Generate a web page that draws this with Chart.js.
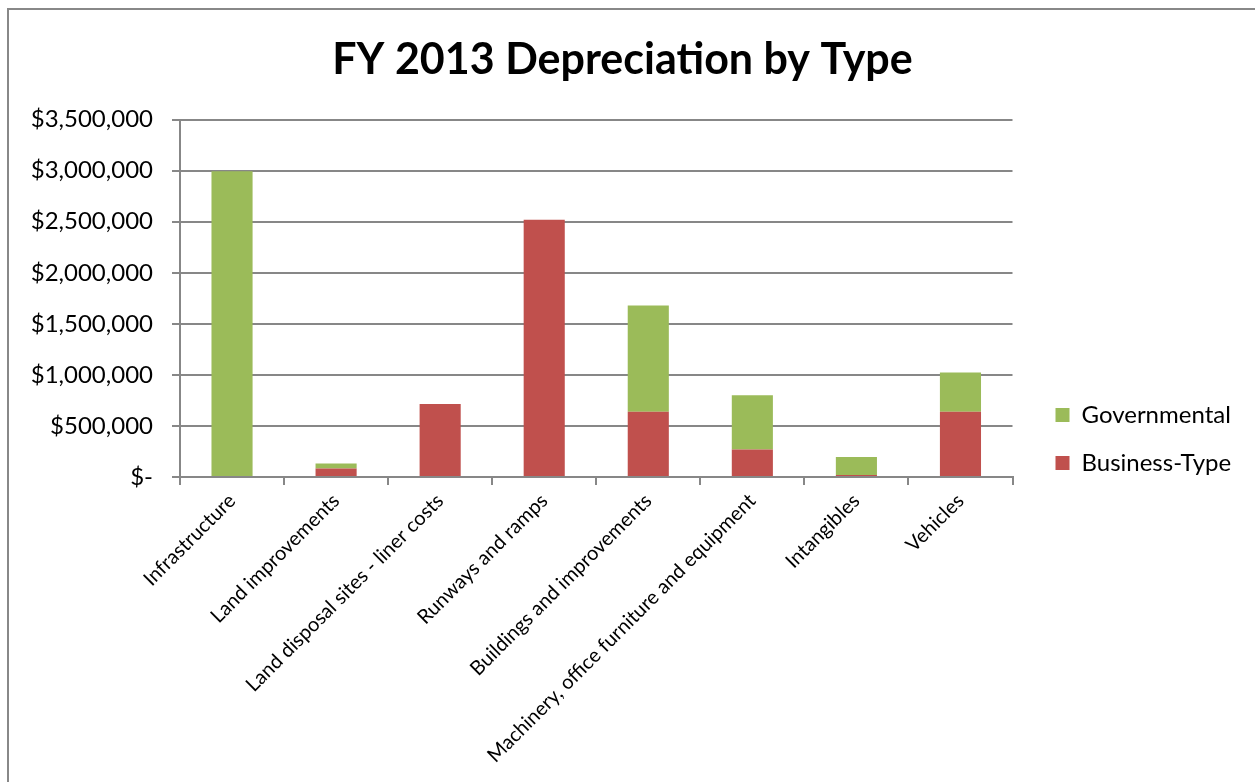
<!DOCTYPE html>
<html lang="en">
<head>
    <meta charset="UTF-8">
    <title>FY 2013 Depreciation by Type</title>
    <script src="https://cdn.jsdelivr.net/npm/chart.js@4"></script>
    <style>
        body {
            margin: 0;
            background: #fff;
            overflow: hidden;
        }
        #frame {
            position: absolute;
            left: 7px;
            top: 8px;
            width: 1300px;
            height: 900px;
            border: 2px solid #888;
        }
        /* the Excel chart runs past the bottom of the window */
        #box {
            position: absolute;
            left: 0;
            top: 0;
            width: 1246px;
            height: 858px;
        }
    </style>
</head>
<body>
    <div id="frame">
        <div id="box"><canvas id="deprChart"></canvas></div>
    </div>

    <script>
        const categories = [
            'Infrastructure',
            'Land improvements',
            'Land disposal sites - liner costs',
            'Runways and ramps',
            'Buildings and improvements',
            'Machinery, office furniture and equipment',
            'Intangibles',
            'Vehicles'
        ];
        const businessType = [0, 84000, 716000, 2520000, 640000, 270000, 20000, 640000];
        const governmental = [2995000, 49000, 0, 0, 1039000, 530000, 176000, 383000];
        const yTicks = [0, 500000, 1000000, 1500000, 2000000, 2500000, 3000000, 3500000];

        const gridGray = '#878787';
        const fontFamily = 'Lato, "Open Sans", sans-serif';

        function money(v) {
            if (v === 0) return '$-';
            return '$' + v.toLocaleString('en-US');
        }

        const ctx = document.getElementById('deprChart').getContext('2d');
        new Chart(ctx, {
            type: 'bar',
            data: {
                labels: categories,
                datasets: [
                    {
                        label: 'Business-Type',
                        data: businessType,
                        backgroundColor: '#C0504D',
                        barPercentage: 0.395,
                        categoryPercentage: 1
                    },
                    {
                        label: 'Governmental',
                        data: governmental,
                        backgroundColor: '#9BBB59',
                        barPercentage: 0.395,
                        categoryPercentage: 1
                    }
                ]
            },
            options: {
                responsive: true,
                maintainAspectRatio: false,
                animation: false,
                layout: { padding: { left: 0, right: 19, top: 0, bottom: 0 } },
                plugins: {
                    title: {
                        display: true,
                        text: 'FY 2013 Depreciation by Type',
                        color: '#000',
                        font: { family: fontFamily, size: 43, weight: 'bold' },
                        padding: { top: 24, bottom: 34 }
                    },
                    legend: {
                        position: 'right',
                        reverse: true,
                        labels: {
                            color: '#000',
                            font: { family: fontFamily, size: 24 },
                            boxWidth: 14,
                            boxHeight: 14,
                            padding: 24
                        }
                    },
                    tooltip: { enabled: false }
                },
                scales: {
                    x: {
                        stacked: true,
                        afterFit: (scale) => { scale.height = 391; },
                        border: { color: gridGray, width: 2 },
                        grid: {
                            offset: true,
                            drawOnChartArea: false,
                            color: gridGray,
                            lineWidth: 2,
                            tickLength: 8
                        },
                        ticks: {
                            color: '#000',
                            font: { family: fontFamily, size: 20 },
                            minRotation: 45,
                            maxRotation: 45,
                            autoSkip: false,
                            padding: 4
                        }
                    },
                    y: {
                        stacked: true,
                        min: 0,
                        max: 3500000,
                        afterFit: (scale) => { scale.width = 171; },
                        afterBuildTicks: (scale) => {
                            scale.ticks = yTicks.map(v => ({ value: v }));
                        },
                        border: { color: gridGray, width: 2 },
                        grid: {
                            color: gridGray,
                            lineWidth: 2,
                            tickLength: 8
                        },
                        ticks: {
                            color: '#000',
                            font: { family: fontFamily, size: 24 },
                            padding: 19,
                            callback: (v) => money(v)
                        }
                    },
                    // empty strip between the plot and the legend
                    gap: {
                        position: 'right',
                        display: true,
                        afterFit: (scale) => { scale.width = 19; },
                        grid: { display: false },
                        border: { display: false },
                        ticks: { display: false }
                    }
                }
            }
        });
    </script>
</body>
</html>
